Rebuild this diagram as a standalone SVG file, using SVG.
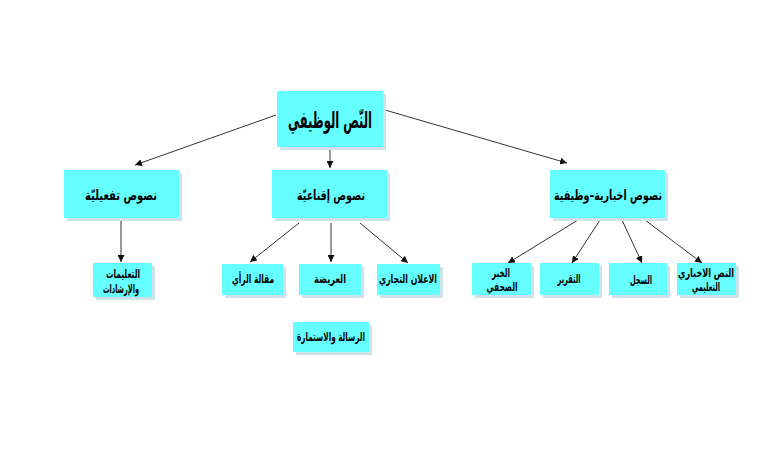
<svg xmlns="http://www.w3.org/2000/svg" width="780" height="470" viewBox="0 0 780 470">
<style>
.box{fill:#66FFFF;}
.sh{fill:#cde3e8;}
.t{font-family:"DejaVu Sans",sans-serif;font-weight:bold;fill:#000;text-anchor:middle;direction:rtl;}
.l{stroke:#333;stroke-width:1;fill:none;marker-end:url(#ah);}
</style>
<defs>
<marker id="ah" viewBox="0 0 10 10" refX="10" refY="5" markerWidth="7" markerHeight="7" orient="auto" markerUnits="userSpaceOnUse">
<path d="M0,0 L10,5 L0,10 z" fill="#111"/>
</marker>
</defs>
<rect width="780" height="470" fill="#fff"/>
<g id="connectors">
<line class="l" x1="276" y1="115" x2="135" y2="165"/>
<line class="l" x1="330" y1="150" x2="330" y2="168"/>
<line class="l" x1="385" y1="110" x2="567" y2="163"/>
<line class="l" x1="121" y1="221" x2="121" y2="262"/>
<line class="l" x1="299" y1="223" x2="250" y2="262"/>
<line class="l" x1="331" y1="223" x2="331" y2="262"/>
<line class="l" x1="360" y1="223" x2="408" y2="263"/>
<line class="l" x1="578" y1="220" x2="508" y2="263"/>
<line class="l" x1="600" y1="220" x2="572" y2="263"/>
<line class="l" x1="622" y1="220" x2="642" y2="263"/>
<line class="l" x1="645" y1="220" x2="702" y2="263"/>
</g>
<g id="root">
<rect class="sh" x="280" y="94" width="106" height="56"/>
<rect class="box" x="277" y="91" width="106" height="56"/>
<text class="t" x="330" y="128" font-size="23" textLength="84" lengthAdjust="spacingAndGlyphs">النّص الوظيفي</text>
</g>
<g id="n_tafiliya">
<rect class="sh" x="67" y="173" width="115" height="48"/>
<rect class="box" x="64" y="170" width="115" height="48"/>
<text class="t" x="121" y="200" font-size="14" textLength="72" lengthAdjust="spacingAndGlyphs">نصوص تفعيليّة</text>
</g>
<g id="n_iqnaiya">
<rect class="sh" x="275" y="173" width="115" height="48"/>
<rect class="box" x="272" y="170" width="115" height="48"/>
<text class="t" x="331" y="200" font-size="14" textLength="68" lengthAdjust="spacingAndGlyphs">نصوص إقناعيّة</text>
</g>
<g id="n_ikhbariya">
<rect class="sh" x="553" y="173" width="115" height="48"/>
<rect class="box" x="550" y="170" width="115" height="48"/>
<text class="t" x="608" y="200" font-size="14" textLength="108" lengthAdjust="spacingAndGlyphs">نصوص اخبارية–وظيفية</text>
</g>
<g id="n_taalimat">
<rect class="sh" x="96" y="266" width="59" height="34"/>
<rect class="box" x="93" y="263" width="59" height="34"/>
<text class="t" x="123" y="278" font-size="12" textLength="34" lengthAdjust="spacingAndGlyphs">التعليمات</text>
<text class="t" x="121" y="293" font-size="12" textLength="36" lengthAdjust="spacingAndGlyphs">والإرشادات</text>
</g>
<g id="n_maqala">
<rect class="sh" x="225" y="267" width="61" height="31"/>
<rect class="box" x="222" y="264" width="61" height="31"/>
<text class="t" x="253" y="283" font-size="12" textLength="42" lengthAdjust="spacingAndGlyphs">مقالة الرأي</text>
</g>
<g id="n_arida">
<rect class="sh" x="302" y="267" width="62" height="31"/>
<rect class="box" x="299" y="264" width="62" height="31"/>
<text class="t" x="330" y="283" font-size="12" textLength="32" lengthAdjust="spacingAndGlyphs">العريضة</text>
</g>
<g id="n_ilan">
<rect class="sh" x="380" y="267" width="63" height="31"/>
<rect class="box" x="377" y="264" width="63" height="31"/>
<text class="t" x="408" y="283" font-size="12" textLength="58" lengthAdjust="spacingAndGlyphs">الاعلان التجاري</text>
</g>
<g id="n_risala">
<rect class="sh" x="296" y="325" width="76" height="30"/>
<rect class="box" x="293" y="322" width="76" height="30"/>
<text class="t" x="331" y="341" font-size="12" textLength="68" lengthAdjust="spacingAndGlyphs">الرسالة والاستمارة</text>
</g>
<g id="n_khabar">
<rect class="sh" x="475" y="266" width="59" height="32"/>
<rect class="box" x="472" y="263" width="59" height="32"/>
<text class="t" x="501" y="277" font-size="12" textLength="18" lengthAdjust="spacingAndGlyphs">الخبر</text>
<text class="t" x="502" y="291" font-size="12" textLength="31" lengthAdjust="spacingAndGlyphs">الصحفي</text>
</g>
<g id="n_taqrir">
<rect class="sh" x="543" y="266" width="59" height="32"/>
<rect class="box" x="540" y="263" width="59" height="32"/>
<text class="t" x="569" y="283" font-size="12" textLength="23" lengthAdjust="spacingAndGlyphs">التقرير</text>
</g>
<g id="n_sijil">
<rect class="sh" x="612" y="266" width="58" height="32"/>
<rect class="box" x="609" y="263" width="58" height="32"/>
<text class="t" x="641" y="284" font-size="12" textLength="22" lengthAdjust="spacingAndGlyphs">السجل</text>
</g>
<g id="n_nass">
<rect class="sh" x="680" y="266" width="59" height="32"/>
<rect class="box" x="677" y="263" width="59" height="32"/>
<text class="t" x="706" y="277" font-size="12" textLength="56" lengthAdjust="spacingAndGlyphs">النص الاخباري</text>
<text class="t" x="706" y="291" font-size="12" textLength="28" lengthAdjust="spacingAndGlyphs">التعليمي</text>
</g>
</svg>
